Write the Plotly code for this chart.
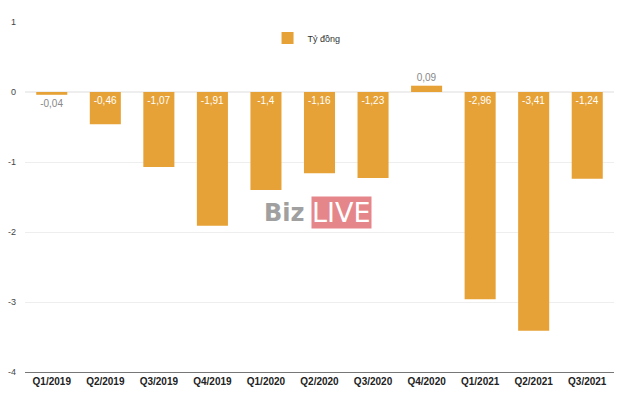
import plotly.graph_objects as go

categories = ["Q1/2019", "Q2/2019", "Q3/2019", "Q4/2019", "Q1/2020", "Q2/2020",
              "Q3/2020", "Q4/2020", "Q1/2021", "Q2/2021", "Q3/2021"]
values = [-0.04, -0.46, -1.07, -1.91, -1.4, -1.16, -1.23, 0.09, -2.96, -3.41, -1.24]
labels = ["-0,04", "-0,46", "-1,07", "-1,91", "-1,4", "-1,16", "-1,23", "0,09", "-2,96", "-3,41", "-1,24"]
series_name = "Tỷ đồng"
y_ticks = [1, 0, -1, -2, -3, -4]

positions = ["outside" if abs(v) < 0.2 else "inside" for v in values]
colors = ["#888888" if p == "outside" else "white" for p in positions]

fig = go.Figure()
fig.add_trace(go.Bar(
    x=categories, y=values, name=series_name,
    marker=dict(color="#E6A236", line=dict(width=0)),
    text=labels, textposition=positions, insidetextanchor="start",
    textfont=dict(color=colors, size=10, family="Liberation Sans, Arial"),
    constraintext="none", cliponaxis=False,
))

fig.add_annotation(x=0.479, y=0.455, xref="paper", yref="paper", text="<b>Biz</b>",
                   showarrow=False, xanchor="right",
                   font=dict(size=24, color="#a0a0a0", family="DejaVu Sans, Arial"))
fig.add_annotation(x=0.486, y=0.455, xref="paper", yref="paper", text="LIVE",
                   showarrow=False, xanchor="left", bgcolor="#E5868A",
                   font=dict(size=27, color="white", family="DejaVu Sans, Arial"),
                   borderpad=0)

fig.update_layout(
    width=632, height=385,
    margin=dict(l=17, r=26, t=14, b=21, autoexpand=False),
    paper_bgcolor="white", plot_bgcolor="white",
    bargap=0.42,
    showlegend=True,
    legend=dict(orientation="h", x=0.478, xanchor="center", y=0.954, yanchor="middle",
                font=dict(size=9, color="#333333", family="Liberation Sans, Arial"),
                itemwidth=30),
    xaxis=dict(showgrid=False, showline=True, linecolor="#777777", linewidth=1,
               ticks="", automargin=False,
               tickfont=dict(size=10, color="#222222", family="Liberation Sans, Arial"),
               tickprefix="<b>", ticksuffix="</b>", range=[-0.5, 10.5]),
    yaxis=dict(range=[-4, 1], tickvals=y_ticks, ticktext=[str(t) for t in y_ticks],
               showgrid=True, gridcolor="#eeeeee", zeroline=True, zerolinecolor="#eeeeee",
               automargin=False,
               tickfont=dict(size=9, color="#444444", family="Liberation Sans, Arial"),
               ticks="", ticklabelstandoff=8),
)

fig.write_html("out.html")
